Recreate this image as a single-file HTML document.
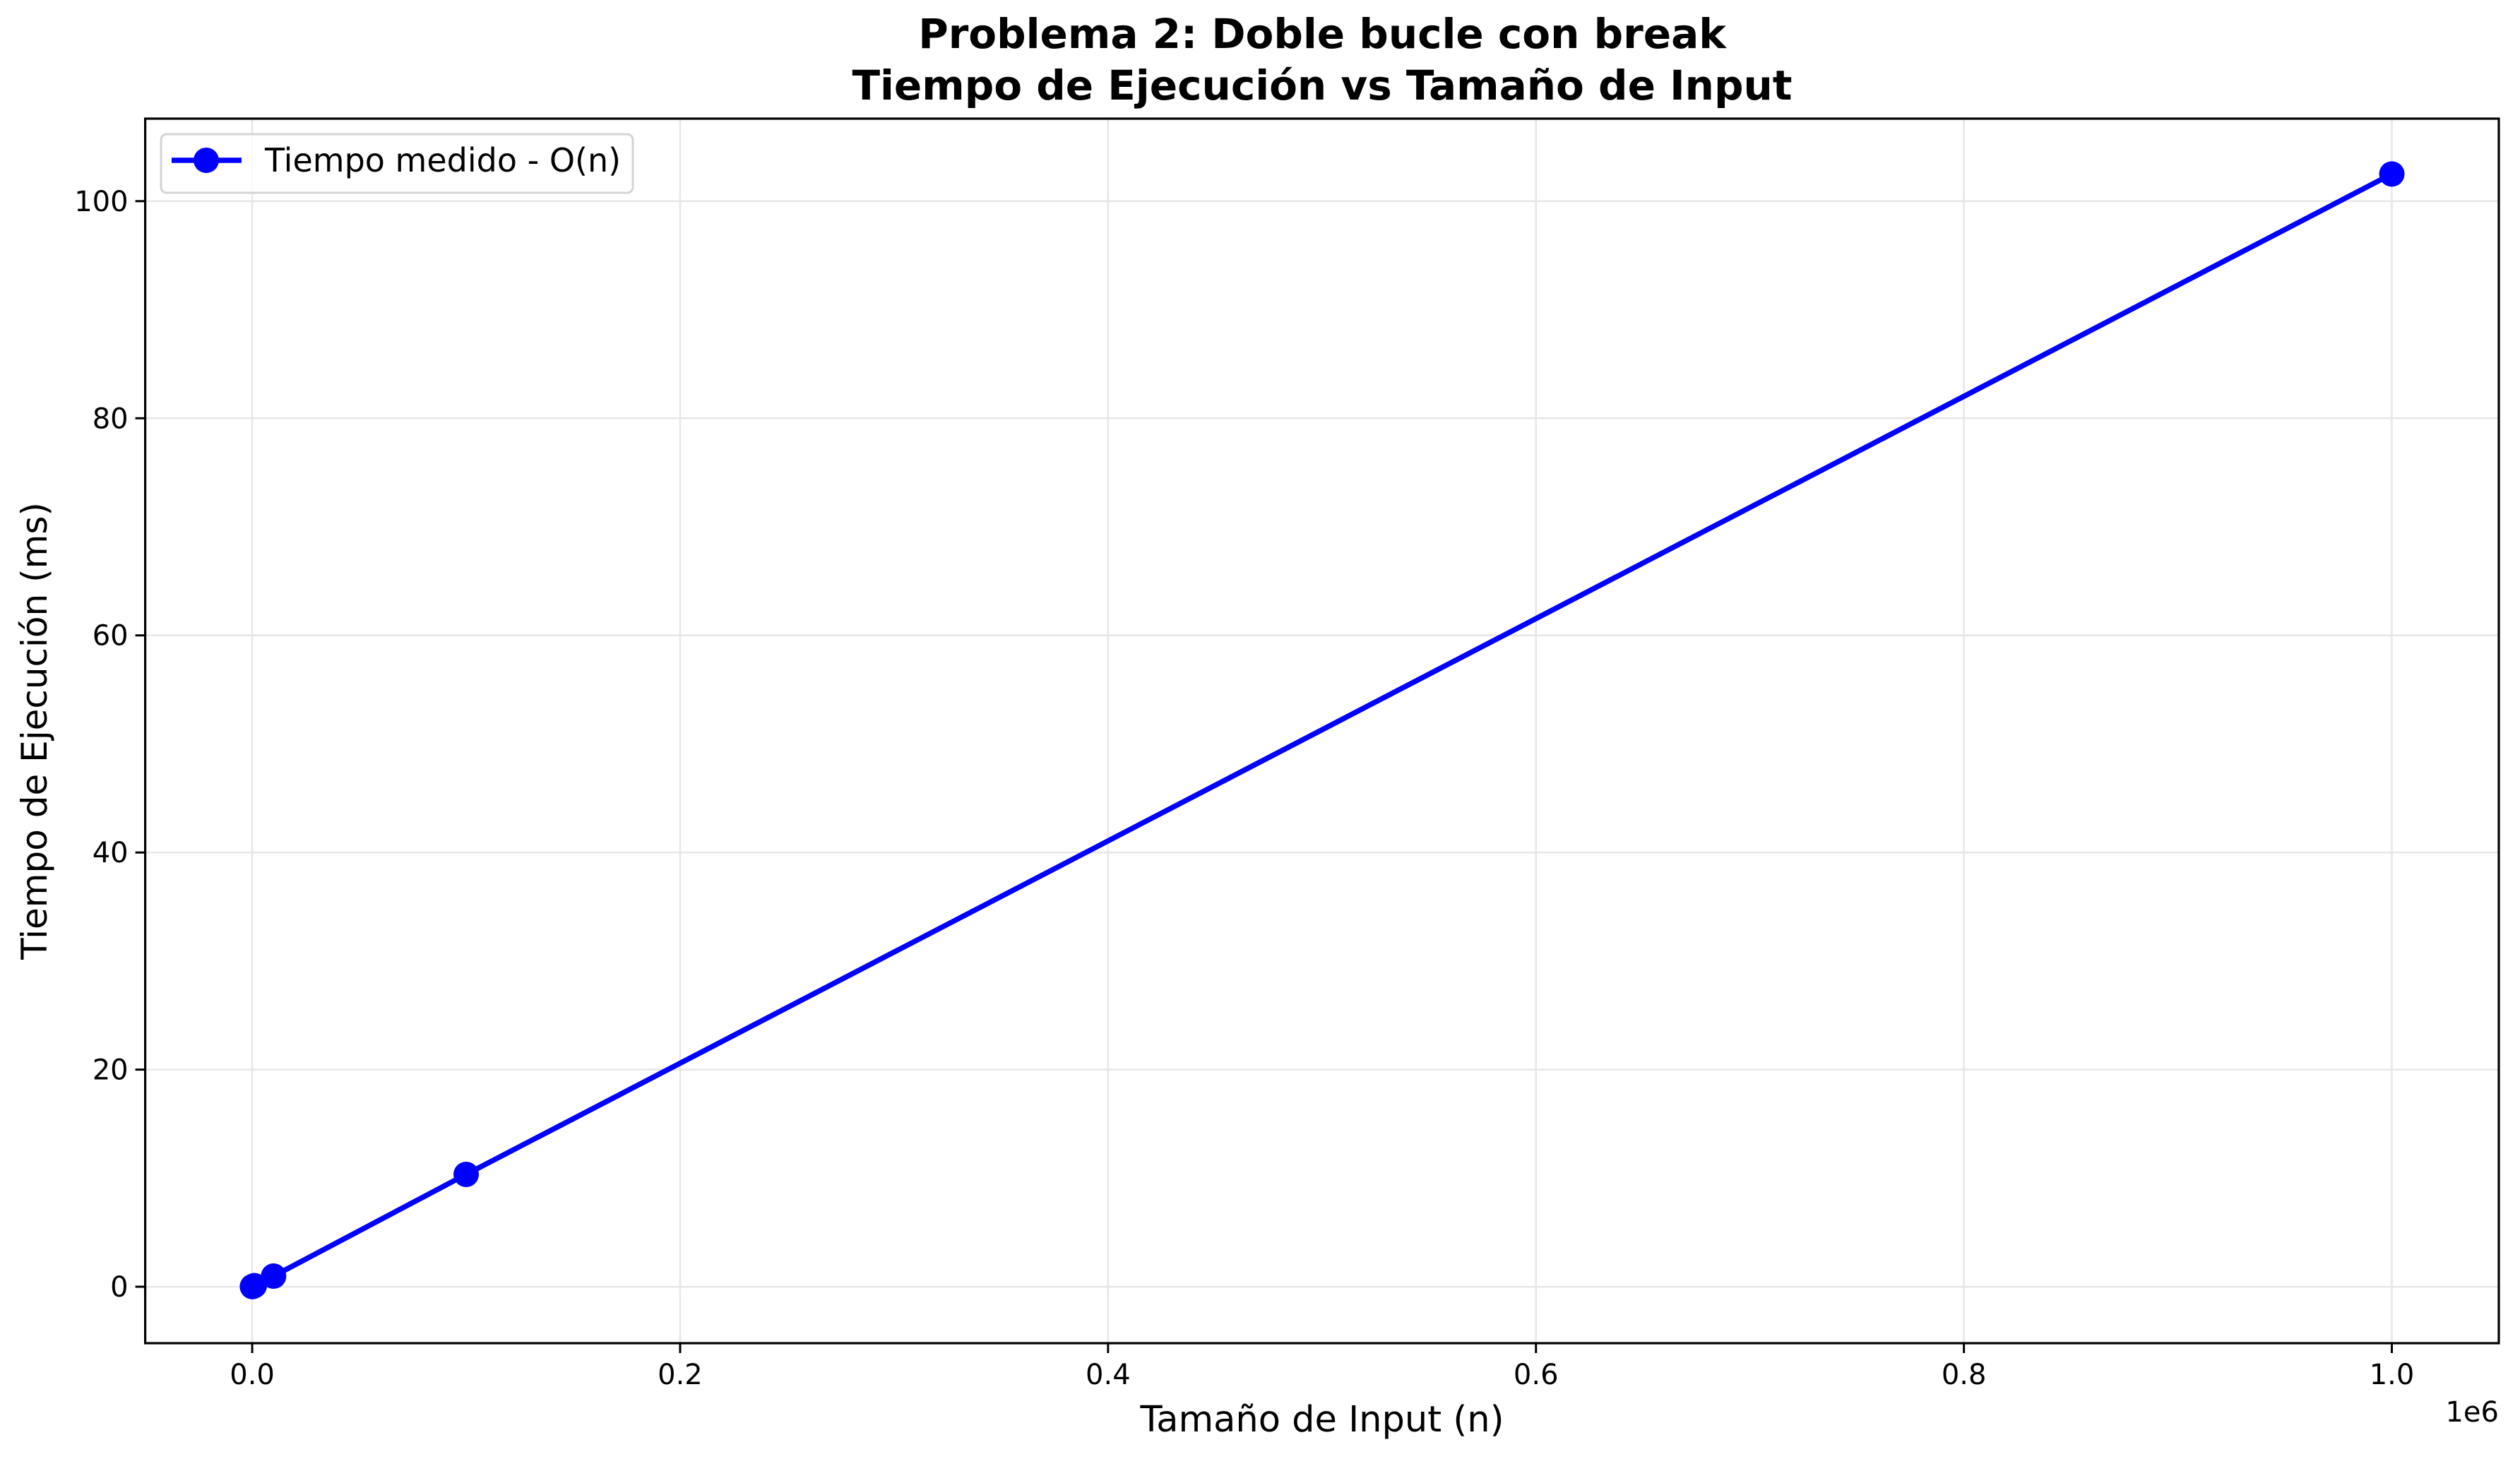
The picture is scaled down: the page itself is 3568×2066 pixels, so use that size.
<!DOCTYPE html>
<html><head><meta charset="utf-8"><style>
html,body{margin:0;padding:0;background:#fff}
svg{display:block;font-family:"DejaVu Sans","Liberation Sans",sans-serif}
</style></head><body>
<svg id="chart" width="3568" height="2066" viewBox="0 0 3568 2066" xmlns="http://www.w3.org/2000/svg">
<rect width="3568" height="2066" fill="#fff"/>
<g id="grid"></g>
<g id="series"></g>
<rect x="205.6" y="168" width="3332.4" height="1734" fill="none" stroke="#000" stroke-width="3.2"/>
<g id="ticks"></g>
<text x="1872" y="68" text-anchor="middle" font-size="58" font-weight="bold">Problema 2: Doble bucle con break</text>
<text x="1872" y="141" text-anchor="middle" font-size="58" font-weight="bold">Tiempo de Ejecución vs Tamaño de Input</text>
<text x="1872" y="2027" text-anchor="middle" font-size="51">Tamaño de Input (n)</text>
<text transform="translate(66,1035) rotate(-90)" text-anchor="middle" font-size="50">Tiempo de Ejecución (ms)</text>
<text x="3538" y="2013" text-anchor="end" font-size="40">1e6</text>
<g>
<rect x="228" y="190" width="668" height="83" rx="8" fill="#fff" fill-opacity="0.8" stroke="#d4d4d4" stroke-width="3"/>
<line x1="243" y1="227" x2="342" y2="227" stroke="#0000ff" stroke-width="7.5"/>
<ellipse cx="292" cy="227" rx="18" ry="18" fill="#0000ff"/>
<text x="375" y="243" font-size="46">Tiempo medido - O(n)</text>
</g>
</svg>
<script>
const nValues = [100, 1000, 10000, 100000, 1000000];
const timeMs = [0.01, 0.1, 0.98, 10.35, 102.5];
const xTicks = [0, 200000, 400000, 600000, 800000, 1000000];
const xTickLabels = ["0.0", "0.2", "0.4", "0.6", "0.8", "1.0"];
const yTicks = [0, 20, 40, 60, 80, 100];
const yTickLabels = ["0", "20", "40", "60", "80", "100"];

const L = 205.6, R = 3538, T = 168, B = 1902;
const xMin = -50000, xMax = 1050000, yMin = -5.2, yMax = 107.6;
function xs(v){ return L + (v - xMin) / (xMax - xMin) * (R - L); }
function ys(v){ return B - (v - yMin) / (yMax - yMin) * (B - T); }
const NS = "http://www.w3.org/2000/svg";
function mk(tag, attrs, parent){ const e = document.createElementNS(NS, tag); for (const k in attrs) e.setAttribute(k, attrs[k]); parent.appendChild(e); return e; }
const grid = document.getElementById('grid'), ticks = document.getElementById('ticks'), series = document.getElementById('series');

xTicks.forEach((v, i) => {
  const x = xs(v);
  const g = mk('line', {x1: x, y1: T, x2: x, y2: B, stroke: '#e6e6e6', 'stroke-width': 2.5}, grid);
  
  
  const t = mk('line', {x1: x, y1: B, x2: x, y2: B + 14, stroke: '#000', 'stroke-width': 3}, ticks);
  
  
  const lb = mk('text', {x: x, y: 1960, 'text-anchor': 'middle', 'font-size': 40}, ticks);
  lb.textContent = xTickLabels[i];
  
  
});
yTicks.forEach((v, i) => {
  const y = ys(v);
  const g = mk('line', {x1: L, y1: y, x2: R, y2: y, stroke: '#e6e6e6', 'stroke-width': 2.5}, grid);
  
  
  const t = mk('line', {x1: L - 14, y1: y, x2: L, y2: y, stroke: '#000', 'stroke-width': 3}, ticks);
  
  
  const lb = mk('text', {x: L - 24, y: y + 14, 'text-anchor': 'end', 'font-size': 40}, ticks);
  lb.textContent = yTickLabels[i];
  
  
});
const pts = nValues.map((n, i) => xs(n) + ',' + ys(timeMs[i])).join(' ');
const line = mk('polyline', {points: pts, fill: 'none', stroke: '#0000ff', 'stroke-width': 7.5, 'stroke-linejoin': 'round'}, series);


nValues.forEach((n, i) => {
  const c = mk('circle', {cx: xs(n), cy: ys(timeMs[i]), r: 18, fill: '#0000ff'}, series);
  
  
});
</script>
</body></html>
